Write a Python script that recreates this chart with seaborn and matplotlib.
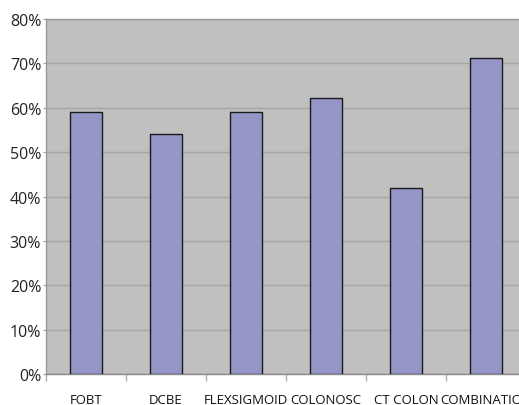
import matplotlib
matplotlib.use("Agg")
import matplotlib.pyplot as plt
import seaborn as sns
import pandas as pd
from matplotlib.ticker import FixedLocator, PercentFormatter

categories = ["FOBT", "DCBE", "FLEXSIGMOID", "COLONOSC", "CT COLON", "COMBINATION"]
values = [59, 54, 59, 62.2, 42, 71.2]
yticks = [0, 10, 20, 30, 40, 50, 60, 70, 80]

df = pd.DataFrame({"test": categories, "pct": values})

sns.set_style("white")
plt.rcParams['font.family'] = ['Open Sans', 'DejaVu Sans']

W, H = 519, 406
fig = plt.figure(figsize=(W / 100, H / 100), dpi=100)
left, right, top, bottom = 46, 526, 20, 375
ax = fig.add_axes([left / W, 1 - bottom / H, (right - left) / W, (bottom - top) / H])
ax.set_facecolor("#c0c0c0")

sns.barplot(data=df, x="test", y="pct", color="#9595c8", saturation=1,
            width=0.4, edgecolor="#1a1a1a", linewidth=1.0, ax=ax, zorder=3)

ax.set_ylim(0, 80)
ax.set_xlim(-0.5, len(categories) - 0.5)
ax.set_yticks(yticks)
ax.yaxis.set_major_formatter(PercentFormatter(decimals=0))
ax.grid(axis="y", color="#a6a6a6", linewidth=1.0, zorder=0)
ax.grid(axis="x", visible=False)
ax.set_axisbelow(True)

ax.xaxis.set_major_locator(FixedLocator(range(len(categories))))
ax.set_xticklabels(categories)
ax.xaxis.set_minor_locator(FixedLocator([i - 0.5 for i in range(len(categories) + 1)]))
ax.tick_params(axis="x", which="major", length=0, pad=14, labelsize=9.5, labelcolor="#111111")
ax.tick_params(axis="x", which="minor", length=5, color="#b0b0b0", width=1, bottom=True)
ax.tick_params(axis="y", length=2, color="#a0a0a0", labelsize=11.5, labelcolor="#222222", pad=1.5, left=True)

for s in ["left", "top"]:
    ax.spines[s].set_visible(True)
    ax.spines[s].set_color("#9a9a9a")
    ax.spines[s].set_linewidth(1)
ax.spines["bottom"].set_color("#8a8a8a")
ax.spines["bottom"].set_linewidth(1)
ax.spines["right"].set_visible(False)
ax.set_xlabel("")
ax.set_ylabel("")

fig.savefig("out.png", dpi=100)
